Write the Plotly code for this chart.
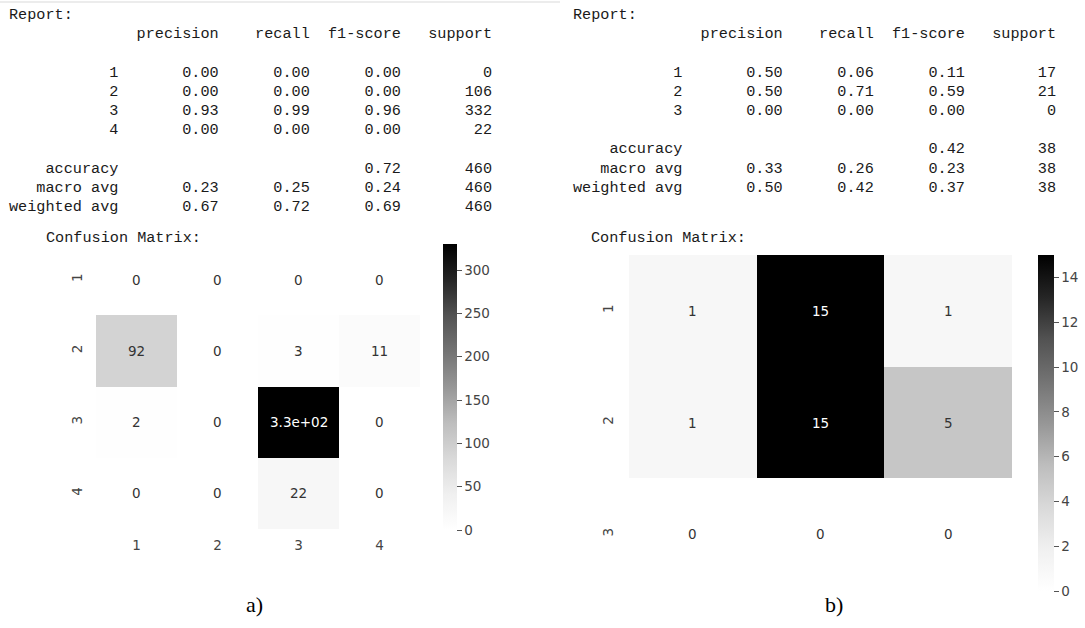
import plotly.graph_objects as go

W, H = 1085, 628

# ---------------- data ----------------
headers = ["precision", "recall", "f1-score", "support"]

a_classes = ["1", "2", "3", "4"]
a_precision = [0.00, 0.00, 0.93, 0.00]
a_recall = [0.00, 0.00, 0.99, 0.00]
a_f1 = [0.00, 0.00, 0.96, 0.00]
a_support = [0, 106, 332, 22]
a_accuracy = 0.72
a_total = 460
a_macro = [0.23, 0.25, 0.24]
a_weighted = [0.67, 0.72, 0.69]
a_cm = [[0, 0, 0, 0],
        [92, 0, 3, 11],
        [2, 0, 330, 0],
        [0, 0, 22, 0]]
a_cbar_ticks = [0, 50, 100, 150, 200, 250, 300]

b_classes = ["1", "2", "3"]
b_precision = [0.50, 0.50, 0.00]
b_recall = [0.06, 0.71, 0.00]
b_f1 = [0.11, 0.59, 0.00]
b_support = [17, 21, 0]
b_accuracy = 0.42
b_total = 38
b_macro = [0.33, 0.26, 0.23]
b_weighted = [0.50, 0.42, 0.37]
b_cm = [[1, 15, 1],
        [1, 15, 5],
        [0, 0, 0]]
b_cbar_ticks = [0, 2, 4, 6, 8, 10, 12, 14]

panel_labels = ["a)", "b)"]


def px(x):
    return x / W


def py(y):
    return 1 - y / H


def report_lines(classes, prec, rec, f1, sup, acc, total, macro, weighted):
    width = len("weighted avg")
    lines = ["Report:"]
    lines.append("{:>{w}s} ".format("", w=width) + "".join(" {:>9}".format(h) for h in headers))
    lines.append("")
    for c, p, r, f, s in zip(classes, prec, rec, f1, sup):
        lines.append("{:>{w}s} ".format(c, w=width)
                     + " {:>9.2f} {:>9.2f} {:>9.2f} {:>9}".format(p, r, f, s))
    lines.append("")
    lines.append("{:>{w}s} ".format("accuracy", w=width)
                 + " {:>9} {:>9} {:>9.2f} {:>9}".format("", "", acc, total))
    lines.append("{:>{w}s} ".format("macro avg", w=width)
                 + " {:>9.2f} {:>9.2f} {:>9.2f} {:>9}".format(*macro, total))
    lines.append("{:>{w}s} ".format("weighted avg", w=width)
                 + " {:>9.2f} {:>9.2f} {:>9.2f} {:>9}".format(*weighted, total))
    return lines


fig = go.Figure()
annotations = []

GREYS = [[0.0, "#ffffff"], [0.125, "#f0f0f0"], [0.25, "#d9d9d9"], [0.375, "#bdbdbd"],
         [0.5, "#969696"], [0.625, "#737373"], [0.75, "#525252"], [0.875, "#252525"],
         [1.0, "#000000"]]

panels = [
    dict(classes=a_classes, cm=a_cm, ticks=a_cbar_ticks,
         rep=report_lines(a_classes, a_precision, a_recall, a_f1, a_support,
                          a_accuracy, a_total, a_macro, a_weighted),
         rep_x=8, cm_title_x=45, hx=(96, 420), hy=(244, 529), cb_x=443, cb_th=14,
         cb_y=(244, 530), show_x=True, label_x=254, xa="x", ya="y", ystand=10),
    dict(classes=b_classes, cm=b_cm, ticks=b_cbar_ticks,
         rep=report_lines(b_classes, b_precision, b_recall, b_f1, b_support,
                          b_accuracy, b_total, b_macro, b_weighted),
         rep_x=572, cm_title_x=590, hx=(629, 1012), hy=(255, 590), cb_x=1038, cb_th=16,
         cb_y=(255, 591), show_x=False, label_x=834, xa="x2", ya="y2", ystand=12),
]

layout_axes = {}
for i, p in enumerate(panels):
    n = len(p["classes"])
    zmax = max(max(r) for r in p["cm"])
    fig.add_trace(go.Heatmap(
        z=p["cm"], x=list(range(n)), y=list(range(n)),
        xaxis=p["xa"], yaxis=p["ya"],
        zmin=0, zmax=zmax, colorscale=GREYS, hoverinfo="skip",
        colorbar=dict(x=px(p["cb_x"]), xanchor="left", xpad=0, ypad=0,
                      y=py(p["cb_y"][1]), yanchor="bottom",
                      len=(p["cb_y"][1] - p["cb_y"][0]) / H, lenmode="fraction",
                      thickness=p["cb_th"], thicknessmode="pixels", outlinewidth=0,
                      ticks="outside", ticklen=5, tickwidth=1, tickcolor="#555",
                      tickvals=p["ticks"],
                      tickfont=dict(family="DejaVu Sans", size=13.5, color="#444")),
    ))
    sfx = "" if i == 0 else "2"
    layout_axes["xaxis" + sfx] = dict(
        domain=[px(p["hx"][0]), px(p["hx"][1])], range=[-0.5, n - 0.5],
        tickvals=list(range(n)), ticktext=p["classes"], showticklabels=p["show_x"],
        showgrid=False, zeroline=False, showline=False, ticks="",
        ticklabelstandoff=6,
        tickfont=dict(family="DejaVu Sans", size=13.5, color="#444"),
        anchor="y" + sfx, fixedrange=True)
    layout_axes["yaxis" + sfx] = dict(
        domain=[py(p["hy"][1]), py(p["hy"][0])], range=[n - 0.5, -0.5],
        tickvals=list(range(n)), ticktext=p["classes"], tickangle=-90,
        showgrid=False, zeroline=False, showline=False, ticks="",
        ticklabelstandoff=p["ystand"],
        tickfont=dict(family="DejaVu Sans", size=13.5, color="#444"),
        anchor="x" + sfx, fixedrange=True)

    # cell annotations
    for r in range(n):
        for c in range(n):
            v = p["cm"][r][c]
            annotations.append(dict(
                x=c, y=r, xref=p["xa"], yref=p["ya"], text=format(v, ".2g"),
                showarrow=False,
                font=dict(family="DejaVu Sans", size=13.5,
                          color="#ffffff" if v > zmax / 2 else "#333333")))

    # report text
    for k, line in enumerate(p["rep"]):
        if not line:
            continue
        annotations.append(dict(
            x=px(p["rep_x"]), y=py(15 + 19.2 * k), xref="paper", yref="paper",
            xanchor="left", yanchor="middle", showarrow=False, borderpad=0,
            text=line.replace(" ", "\u00a0"),
            font=dict(family="Liberation Mono", size=15.2, color="#1a1a1a")))

    annotations.append(dict(
        x=px(p["cm_title_x"]), y=py(238), xref="paper", yref="paper",
        xanchor="left", yanchor="middle", showarrow=False, borderpad=0,
        text="Confusion\u00a0Matrix:",
        font=dict(family="Liberation Mono", size=15.2, color="#1a1a1a")))

    annotations.append(dict(
        x=px(p["label_x"]), y=py(604), xref="paper", yref="paper",
        xanchor="center", yanchor="middle", showarrow=False,
        text=panel_labels[i],
        font=dict(family="Liberation Serif", size=22, color="#000000")))

fig.update_layout(
    width=W, height=H, margin=dict(l=0, r=0, t=0, b=0, autoexpand=False),
    paper_bgcolor="white", plot_bgcolor="white", showlegend=False,
    annotations=annotations,
    shapes=[dict(type="line", xref="paper", yref="paper", x0=0, x1=px(560),
                 y0=py(2), y1=py(2), line=dict(color="#ececec", width=2))],
    **layout_axes)

fig.write_html(
    "out.html",
    config={"displayModeBar": False},
    post_script="document.body.style.margin='0';document.body.style.overflow='hidden';")
